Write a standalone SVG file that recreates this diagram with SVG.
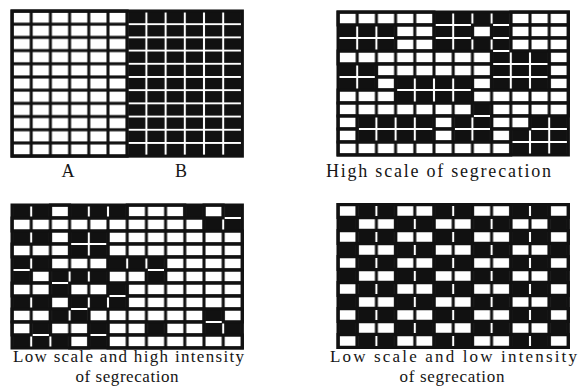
<svg xmlns="http://www.w3.org/2000/svg" width="582" height="389" viewBox="0 0 582 389">
<style>
.w{fill:url(#pw);stroke:#111;stroke-width:3}
.frame{fill:none;stroke:#111;stroke-width:3}
.lbl{font-family:"Liberation Serif","Times New Roman",serif;font-size:18px;fill:#151515}
.lbl2{font-family:"Liberation Serif","Times New Roman",serif;font-size:17px;fill:#151515}
</style>
<defs>
<pattern id="pb" width="19.2" height="13" patternUnits="userSpaceOnUse">
<rect width="19.2" height="13" fill="#111"/>
<path d="M0 0H19.2V1H0Z M0 12H19.2V13H0Z M0 0H1V13H0Z M18.2 0H19.2V13H18.2Z" fill="#fff"/>
</pattern>
<pattern id="pw" width="19.2" height="13" patternUnits="userSpaceOnUse">
<rect width="19.2" height="13" fill="#111"/>
<rect x="1.5" y="1.5" width="16.2" height="10" fill="#fff"/>
</pattern>
</defs>
<rect width="582" height="389" fill="#fff"/>

<g id="grid-ab">
<g transform="translate(12,11) scale(1,1.015)">
<rect width="230.4" height="143" fill="url(#pb)"/>
<rect class="w" x="0" y="0" width="115.2" height="143"/>
<rect class="frame" width="230.4" height="143"/>
</g>
<text class="lbl" x="68" y="177" text-anchor="middle">A</text>
<text class="lbl" x="181" y="177" text-anchor="middle">B</text>
</g>

<g id="grid-high-scale">
<g transform="translate(338,12)">
<rect width="230.4" height="143" fill="url(#pb)"/>
<rect class="w" x="0" y="0" width="96" height="13"/>
<rect class="w" x="172.8" y="0" width="57.6" height="13"/>
<rect class="w" x="57.6" y="13" width="38.4" height="13"/>
<rect class="w" x="134.4" y="13" width="19.2" height="13"/>
<rect class="w" x="172.8" y="13" width="57.6" height="13"/>
<rect class="w" x="57.6" y="26" width="38.4" height="13"/>
<rect class="w" x="172.8" y="26" width="57.6" height="13"/>
<rect class="w" x="0" y="39" width="153.6" height="13"/>
<rect class="w" x="211.2" y="39" width="19.2" height="13"/>
<rect class="w" x="38.4" y="52" width="115.2" height="13"/>
<rect class="w" x="211.2" y="52" width="19.2" height="13"/>
<rect class="w" x="38.4" y="65" width="19.2" height="13"/>
<rect class="w" x="134.4" y="65" width="19.2" height="13"/>
<rect class="w" x="211.2" y="65" width="19.2" height="13"/>
<rect class="w" x="0" y="78" width="57.6" height="13"/>
<rect class="w" x="134.4" y="78" width="96" height="13"/>
<rect class="w" x="0" y="91" width="134.4" height="13"/>
<rect class="w" x="153.6" y="91" width="76.8" height="13"/>
<rect class="w" x="0" y="104" width="19.2" height="13"/>
<rect class="w" x="96" y="104" width="19.2" height="13"/>
<rect class="w" x="153.6" y="104" width="38.4" height="13"/>
<rect class="w" x="0" y="117" width="19.2" height="13"/>
<rect class="w" x="96" y="117" width="19.2" height="13"/>
<rect class="w" x="153.6" y="117" width="19.2" height="13"/>
<rect class="w" x="0" y="130" width="172.8" height="13"/>
<rect class="frame" width="230.4" height="143"/>
</g>
<text class="lbl" x="326" y="177" textLength="225" lengthAdjust="spacing">High scale of segrecation</text>
</g>

<g id="grid-low-high">
<g transform="translate(12,205)">
<rect width="230.4" height="143" fill="url(#pb)"/>
<rect class="w" x="38.4" y="0" width="19.2" height="13"/>
<rect class="w" x="115.2" y="0" width="57.6" height="13"/>
<rect class="w" x="192" y="0" width="19.2" height="13"/>
<rect class="w" x="0" y="13" width="192" height="13"/>
<rect class="w" x="38.4" y="26" width="19.2" height="13"/>
<rect class="w" x="96" y="26" width="134.4" height="13"/>
<rect class="w" x="0" y="39" width="57.6" height="13"/>
<rect class="w" x="96" y="39" width="134.4" height="13"/>
<rect class="w" x="38.4" y="52" width="57.6" height="13"/>
<rect class="w" x="153.6" y="52" width="76.8" height="13"/>
<rect class="w" x="19.2" y="65" width="19.2" height="13"/>
<rect class="w" x="96" y="65" width="38.4" height="13"/>
<rect class="w" x="153.6" y="65" width="76.8" height="13"/>
<rect class="w" x="0" y="78" width="38.4" height="13"/>
<rect class="w" x="57.6" y="78" width="38.4" height="13"/>
<rect class="w" x="115.2" y="78" width="115.2" height="13"/>
<rect class="w" x="38.4" y="91" width="19.2" height="13"/>
<rect class="w" x="115.2" y="91" width="115.2" height="13"/>
<rect class="w" x="0" y="104" width="38.4" height="13"/>
<rect class="w" x="76.8" y="104" width="115.2" height="13"/>
<rect class="w" x="211.2" y="104" width="19.2" height="13"/>
<rect class="w" x="0" y="117" width="19.2" height="13"/>
<rect class="w" x="38.4" y="117" width="38.4" height="13"/>
<rect class="w" x="96" y="117" width="38.4" height="13"/>
<rect class="w" x="153.6" y="117" width="38.4" height="13"/>
<rect class="w" x="57.6" y="130" width="19.2" height="13"/>
<rect class="w" x="96" y="130" width="134.4" height="13"/>
<rect class="frame" width="230.4" height="143"/>
</g>
<text class="lbl2" x="13" y="362" textLength="231" lengthAdjust="spacing">Low scale and high intensity</text>
<text class="lbl2" x="127" y="382" text-anchor="middle" textLength="103" lengthAdjust="spacing">of segrecation</text>
</g>

<g id="grid-low-low">
<g transform="translate(338,204.5)">
<rect width="230.4" height="143" fill="url(#pb)"/>
<rect class="w" x="0" y="0" width="19.2" height="13"/>
<rect class="w" x="57.6" y="0" width="38.4" height="13"/>
<rect class="w" x="134.4" y="0" width="38.4" height="13"/>
<rect class="w" x="211.2" y="0" width="19.2" height="13"/>
<rect class="w" x="19.2" y="13" width="38.4" height="13"/>
<rect class="w" x="96" y="13" width="38.4" height="13"/>
<rect class="w" x="172.8" y="13" width="38.4" height="13"/>
<rect class="w" x="0" y="26" width="19.2" height="13"/>
<rect class="w" x="57.6" y="26" width="38.4" height="13"/>
<rect class="w" x="134.4" y="26" width="38.4" height="13"/>
<rect class="w" x="211.2" y="26" width="19.2" height="13"/>
<rect class="w" x="19.2" y="39" width="38.4" height="13"/>
<rect class="w" x="96" y="39" width="38.4" height="13"/>
<rect class="w" x="172.8" y="39" width="38.4" height="13"/>
<rect class="w" x="0" y="52" width="19.2" height="13"/>
<rect class="w" x="57.6" y="52" width="38.4" height="13"/>
<rect class="w" x="134.4" y="52" width="38.4" height="13"/>
<rect class="w" x="211.2" y="52" width="19.2" height="13"/>
<rect class="w" x="19.2" y="65" width="38.4" height="13"/>
<rect class="w" x="96" y="65" width="38.4" height="13"/>
<rect class="w" x="172.8" y="65" width="38.4" height="13"/>
<rect class="w" x="0" y="78" width="19.2" height="13"/>
<rect class="w" x="57.6" y="78" width="38.4" height="13"/>
<rect class="w" x="134.4" y="78" width="38.4" height="13"/>
<rect class="w" x="211.2" y="78" width="19.2" height="13"/>
<rect class="w" x="19.2" y="91" width="38.4" height="13"/>
<rect class="w" x="96" y="91" width="38.4" height="13"/>
<rect class="w" x="172.8" y="91" width="38.4" height="13"/>
<rect class="w" x="0" y="104" width="19.2" height="13"/>
<rect class="w" x="57.6" y="104" width="38.4" height="13"/>
<rect class="w" x="134.4" y="104" width="38.4" height="13"/>
<rect class="w" x="211.2" y="104" width="19.2" height="13"/>
<rect class="w" x="19.2" y="117" width="38.4" height="13"/>
<rect class="w" x="96" y="117" width="38.4" height="13"/>
<rect class="w" x="172.8" y="117" width="38.4" height="13"/>
<rect class="w" x="0" y="130" width="19.2" height="13"/>
<rect class="w" x="57.6" y="130" width="38.4" height="13"/>
<rect class="w" x="134.4" y="130" width="38.4" height="13"/>
<rect class="w" x="211.2" y="130" width="19.2" height="13"/>
<rect class="frame" width="230.4" height="143"/>
</g>
<text class="lbl2" x="330" y="362" textLength="247" lengthAdjust="spacing">Low scale and low intensity</text>
<text class="lbl2" x="452" y="382" text-anchor="middle" textLength="105" lengthAdjust="spacing">of segrecation</text>
</g>
</svg>
